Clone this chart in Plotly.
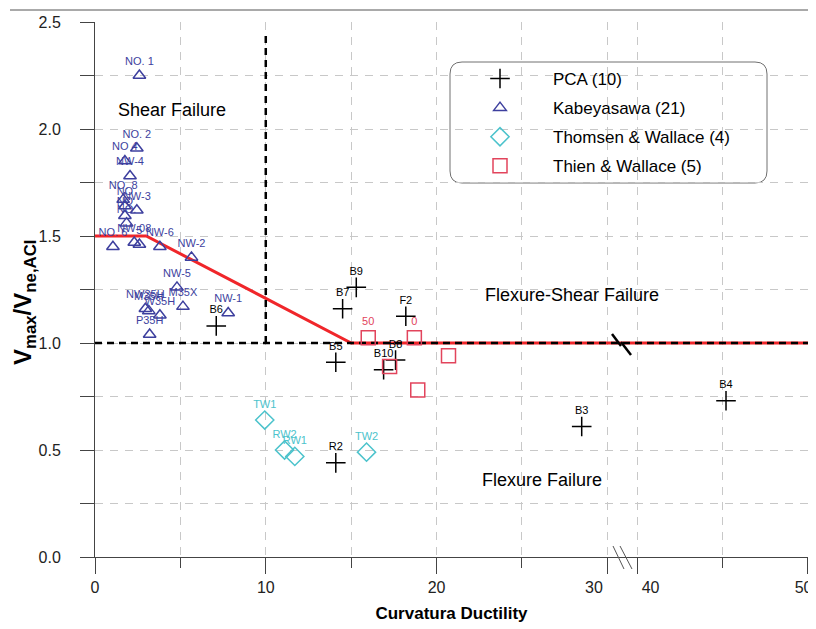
import plotly.graph_objects as go

# ---------------- data ----------------
# PCA (10)
pca_labels = ["B9", "B7", "F2", "B5", "B10", "B8", "R2", "B6", "B3", "B4"]
pca_x = [15.3, 14.5, 18.2, 14.1, 16.9, 17.6, 14.1, 7.1, 28.5, 45.2]
pca_y = [1.26, 1.16, 1.125, 0.91, 0.875, 0.92, 0.44, 1.08, 0.61, 0.73]

# Kabeyasawa (21)
kab_labels = ["NO. 1", "NO. 2", "NO 4", "NW-4", "NO. 8", "NW-3", "NO", "NO", "NO.", "NO. 6",
              "NW-08", "5", "NW-6", "NW-2", "NW-5", "M35X", "NW35H", "M35H", "W35H", "P35H", "NW-1"]
kab_x = [2.6, 2.45, 1.75, 2.05, 1.65, 2.45, 1.75, 1.75, 1.85, 1.05,
         2.3, 2.6, 3.8, 5.65, 4.8, 5.15, 2.95, 3.15, 3.8, 3.2, 7.8]
kab_y = [2.25, 1.91, 1.85, 1.78, 1.67, 1.62, 1.64, 1.595, 1.56, 1.45,
         1.47, 1.46, 1.45, 1.40, 1.26, 1.17, 1.16, 1.15, 1.13, 1.04, 1.14]

# Thomsen & Wallace (4)
tw_labels = ["TW1", "RW2", "RW1", "TW2"]
tw_x = [9.94, 11.1, 11.7, 15.9]
tw_y = [0.64, 0.50, 0.47, 0.49]

# Thien & Wallace (5)
thw_labels = ["50", "0", "", "", ""]
thw_x = [16.0, 18.7, 17.25, 20.7, 18.9]
thw_y = [1.025, 1.025, 0.89, 0.94, 0.78]

# limit lines
red_x = [0, 3, 15, 50]
red_y = [1.5, 1.5, 1.0, 1.0]
hdash_x = [0, 50]
hdash_y = [1.0, 1.0]
vdash_x = [10, 10]
vdash_y = [1.0, 2.45]

# axis ticks
x_major_vals = [0, 10, 20, 30, 40, 50]
x_major_text = ["0", "10", "20", "30\u00a0\u00a0\u00a0\u00a0\u00a0\u00a0",
                "\u00a0\u00a0\u00a0\u00a0\u00a0\u00a040", "50\u00a0\u00a0"]
x_minor_vals = [5, 15, 25, 45]
y_major_vals = [0, 0.5, 1.0, 1.5, 2.0, 2.5]
y_major_text = ["0.0", "0.5", "1.0", "1.5", "2.0", "2.5"]
y_minor_vals = [0.25, 0.75, 1.25, 1.75, 2.25]

# ---------------- broken x-axis mapping ----------------
BREAK_LO, BREAK_HI, BREAK_GAP = 30.0, 40.0, 1.75


def u(x):
    return x if x <= BREAK_LO else x - (BREAK_HI - BREAK_LO) + BREAK_GAP


def U(xs):
    return [u(v) for v in xs]


FONT = "Arial, Liberation Sans, sans-serif"
BLUE = "#3d3f9e"
CYAN = "#4cc3cc"
RED_M = "#e2445c"
RED_L = "#f0262a"
GRID = "#c8c8c8"
AX = "#444444"

# plot area in page pixels (page has an 8px body margin)
L, R, T, B = 95, 808, 22, 557
OFF = 8
FIG_W, FIG_H = 816 - OFF, 629 - OFF


def px(xp):
    return (xp - L) / (R - L)


def py(yp):
    return (B - yp) / (B - T)


fig = go.Figure()

fig.add_trace(go.Scatter(x=U(red_x), y=red_y, mode="lines",
                         line=dict(color=RED_L, width=3), showlegend=False, hoverinfo="skip"))
fig.add_trace(go.Scatter(x=U(hdash_x), y=hdash_y, mode="lines",
                         line=dict(color="black", width=2.5, dash="7px,5px"), showlegend=False,
                         hoverinfo="skip"))
fig.add_trace(go.Scatter(x=U(vdash_x), y=vdash_y, mode="lines",
                         line=dict(color="black", width=2.5, dash="7px,5px"), showlegend=False,
                         hoverinfo="skip"))

fig.add_trace(go.Scatter(
    x=U(pca_x), y=pca_y, mode="markers+text", name="PCA (10)", legendgroup="a",
    text=pca_labels, textposition="top center",
    textfont=dict(family=FONT, size=11, color="black"),
    marker=dict(symbol="cross-thin-open", size=14, color="black",
                line=dict(color="black", width=1.5))))

fig.add_trace(go.Scatter(
    x=U(kab_x), y=kab_y, mode="markers+text", name="Kabeyasawa (21)", legendgroup="b",
    text=kab_labels, textposition="top center",
    textfont=dict(family=FONT, size=11, color=BLUE),
    marker=dict(symbol="triangle-up-open", size=11, color=BLUE, line=dict(color=BLUE, width=1.5))))

fig.add_trace(go.Scatter(
    x=U(tw_x), y=tw_y, mode="markers+text", name="Thomsen & Wallace (4)", legendgroup="c",
    text=tw_labels, textposition="top center",
    textfont=dict(family=FONT, size=11, color=CYAN),
    marker=dict(symbol="diamond-open", size=14, color=CYAN, line=dict(color=CYAN, width=1.5))))

fig.add_trace(go.Scatter(
    x=U(thw_x), y=thw_y, mode="markers+text", name="Thien & Wallace (5)", legendgroup="d",
    text=thw_labels, textposition="top center",
    textfont=dict(family=FONT, size=11, color=RED_M),
    marker=dict(symbol="square-open", size=14, color=RED_M, line=dict(color=RED_M, width=1.5))))


def rounded_rect(x0, y0, x1, y1, r):
    rx, ry = r / (R - L), r / (B - T)
    X0, X1, Y0, Y1 = px(x0), px(x1), py(y1), py(y0)
    return (f"M {X0+rx},{Y1} L {X1-rx},{Y1} Q {X1},{Y1} {X1},{Y1-ry} "
            f"L {X1},{Y0+ry} Q {X1},{Y0} {X1-rx},{Y0} L {X0+rx},{Y0} "
            f"Q {X0},{Y0} {X0},{Y0+ry} L {X0},{Y1-ry} Q {X0},{Y1} {X0+rx},{Y1} Z")


shapes = [
    dict(type="path", xref="paper", yref="paper", path=rounded_rect(450, 62, 767, 183, 12),
         line=dict(color="#707070", width=1), fillcolor="white", layer="below"),
    dict(type="line", xref="paper", yref="paper", x0=px(10), x1=1.0, y0=py(10), y1=py(10),
         line=dict(color="#555555", width=1)),
    dict(type="line", xref="paper", yref="paper", x0=px(613), y0=py(546), x1=px(624), y1=py(569),
         line=dict(color="#555555", width=1)),
    dict(type="line", xref="paper", yref="paper", x0=px(620), y0=py(546), x1=px(632), y1=py(569),
         line=dict(color="#555555", width=1)),
    dict(type="line", xref="paper", yref="paper", x0=px(612), y0=py(334), x1=px(621), y1=py(346),
         line=dict(color="black", width=2.5)),
    dict(type="line", xref="paper", yref="paper", x0=px(621), y0=py(342), x1=px(631), y1=py(355),
         line=dict(color="black", width=2.5)),
]

annotations = [
    dict(text="Shear Failure", x=u(4.5), y=2.09, xref="x", yref="y", showarrow=False,
         font=dict(family=FONT, size=18, color="black")),
    dict(text="Flexure-Shear Failure", x=27.95, y=1.225, xref="x", yref="y", showarrow=False,
         font=dict(family=FONT, size=18, color="black")),
    dict(text="Flexure Failure", x=26.15, y=0.36, xref="x", yref="y", showarrow=False,
         font=dict(family=FONT, size=18, color="black")),
    dict(text="<b>V<sub>max</sub>/V<sub>ne,ACI</sub></b>", x=px(24), y=py(303),
         xref="paper", yref="paper", xanchor="center", yanchor="middle",
         showarrow=False, textangle=-90,
         font=dict(family=FONT, size=24, color="black")),
]

fig.update_layout(
    width=FIG_W, height=FIG_H,
    margin=dict(l=L - OFF, r=FIG_W - (R - OFF), t=T - OFF, b=FIG_H - (B - OFF), autoexpand=False),
    paper_bgcolor="white", plot_bgcolor="white",
    font=dict(family=FONT, size=15, color="#222222"),
    showlegend=True,
    legend=dict(x=px(447), y=py(61), xanchor="left", yanchor="top",
                bgcolor="rgba(0,0,0,0)", borderwidth=0, itemwidth=96,
                traceorder="grouped", tracegroupgap=4,
                font=dict(family=FONT, size=17, color="black")),
    shapes=shapes,
    annotations=annotations,
    xaxis=dict(range=[0, u(50) + 0.001], tickmode="array", tickvals=U(x_major_vals),
               ticktext=x_major_text, tickangle=0, automargin=False,
               ticklabeloverflow="allow",
               showline=True, linecolor=AX, linewidth=1, mirror=False,
               ticks="outside", ticklen=16, tickcolor=AX,
               showgrid=True, gridcolor=GRID, gridwidth=1, griddash="8px,7px",
               minor=dict(tickmode="array", tickvals=U(x_minor_vals), ticks="outside",
                          ticklen=10, tickcolor=AX, showgrid=True, gridcolor=GRID,
                          gridwidth=1, griddash="8px,7px"),
               zeroline=False, tickfont=dict(family=FONT, size=16, color="#222222"),
               title=dict(text="<b>Curvatura Ductility</b>", standoff=11,
                          font=dict(family=FONT, size=17, color="black"))),
    yaxis=dict(range=[0, 2.5], tickmode="array", tickvals=y_major_vals, ticktext=y_major_text,
               automargin=False,
               showline=True, linecolor=AX, linewidth=1, mirror=True,
               ticks="outside", ticklen=14, tickcolor=AX,
               showgrid=True, gridcolor=GRID, gridwidth=1, griddash="8px,7px",
               minor=dict(tickmode="array", tickvals=y_minor_vals, ticks="outside",
                          ticklen=14, tickcolor=AX, showgrid=True, gridcolor=GRID,
                          gridwidth=1, griddash="8px,7px"),
               zeroline=False, tickfont=dict(family=FONT, size=16, color="#222222"),
               ticklabelstandoff=16),
)

fig.write_html("out.html")
